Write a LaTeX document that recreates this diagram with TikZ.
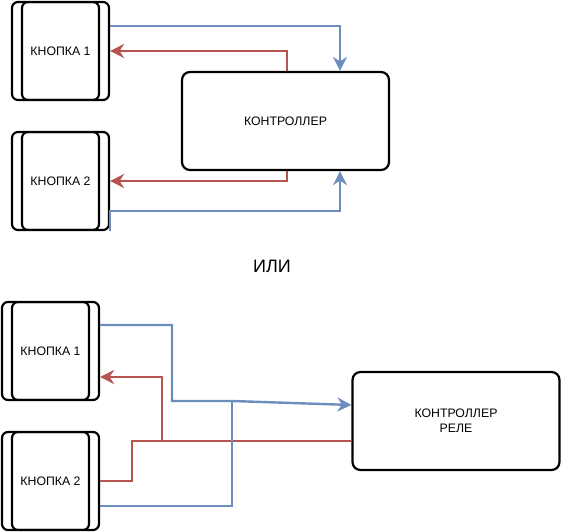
\documentclass[tikz,border=0pt]{standalone}
\usepackage{fontspec}
\setmainfont{Liberation Sans}
\usepackage{xcolor}
\usepackage{tikz}
\usetikzlibrary{positioning, arrows.meta}
\definecolor{bluel}{HTML}{6C8EBF}
\definecolor{redl}{HTML}{B85450}
\tikzset{
	knopka/.style={draw, line width=2.2pt, rounded corners=6pt, minimum width=97pt, minimum height=98pt,
		font=\fontsize{12.3}{14}\selectfont,
		path picture={\draw[line width=2.2pt, rounded corners=6pt]
			([xshift=10pt]path picture bounding box.north west) rectangle ([xshift=-10pt]path picture bounding box.south east);}},
	kontr/.style={draw, line width=2.2pt, rounded corners=8pt, minimum width=207pt, minimum height=98pt,
		align=center, font=\fontsize{12.3}{14.5}\selectfont},
	bluewire/.style={draw=bluel, line width=2.4pt},
	redwire/.style={draw=redl, line width=2.4pt},
	tip/.style={-{Stealth[length=14pt, width=14pt, inset=4.5pt]}}
}
\begin{document}
\begin{tikzpicture}[x=1pt, y=-1pt]
	\useasboundingbox (0,0) rectangle (562,532);
	% Top: two buttons and the controller
	\node[knopka] (k1) at (60.5, 51) {КНОПКА 1};
	\node[knopka] (k2) at (60.5, 181) {КНОПКА 2};
	\node[kontr] (ctrl) at (285.5, 121) {КОНТРОЛЛЕР};
	\draw[bluewire, tip] ([yshift=25pt]k1.east) -| ([xshift=54.5pt]ctrl.north);
	\draw[redwire, tip] ([xshift=1.5pt]ctrl.north) |- (k1.east);
	\draw[redwire, tip] ([xshift=1.5pt]ctrl.south) |- (k2.east);
	\draw[bluewire, tip] (k2.south east) -- ([yshift=20pt]k2.south east) -| ([xshift=54.5pt]ctrl.south);
	\node[font=\fontsize{18}{20}\selectfont] (ili) at (272, 266) {ИЛИ};
	% Bottom: two buttons and the relay controller
	\node[knopka] (kb1) at (50.5, 351) {КНОПКА 1};
	\node[knopka] (kb2) at (50.5, 481) {КНОПКА 2};
	\node[kontr] (rele) at (456, 421) {КОНТРОЛЛЕР\\РЕЛЕ};
	\coordinate (bj) at (232, 401);
	\coordinate (rj) at (162, 441);
	\draw[redwire, tip] ([yshift=-20pt]rele.west) -- (rj) |- ([yshift=-26pt]kb1.east);
	\draw[redwire] (rj) -- ++(-30,0) |- (kb2.east);
	\draw[bluewire, tip] ([yshift=26pt]kb1.east) -| ([xshift=-60pt]bj) -- (bj) -- ([yshift=16pt]rele.west);
	\draw[bluewire] ([yshift=-25pt]kb2.east) -| (bj);
\end{tikzpicture}
\end{document}
